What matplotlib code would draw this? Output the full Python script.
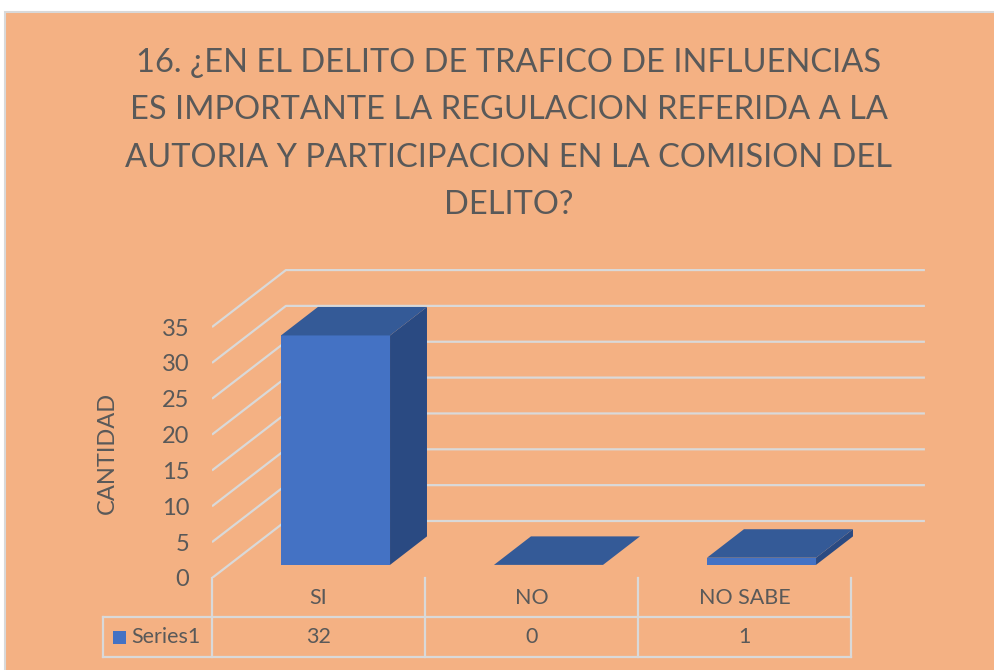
import matplotlib
matplotlib.use("Agg")
import matplotlib.pyplot as plt
from matplotlib.patches import Polygon, Rectangle

# ---- data ----
categories = ["SI", "NO", "NO SABE"]
values = [32, 0, 1]
series_name = "Series1"
y_ticks = [0, 5, 10, 15, 20, 25, 30, 35]
title = ("16. ¿EN EL DELITO DE TRAFICO DE INFLUENCIAS\n"
         "ES IMPORTANTE LA REGULACION REFERIDA A LA\n"
         "AUTORIA Y PARTICIPACION EN LA COMISION DEL\n"
         "DELITO?")
y_label = "CANTIDAD"

# ---- style ----
BG = "#F4B183"
GRID = "#D9D9D9"
TXT = "#595959"
FRONT = "#4472C4"
TOP = "#345A97"
SIDE = "#2A4A82"
FONT = ["Lato", "DejaVu Sans"]

W, H = 994, 670
fig = plt.figure(figsize=(W / 100, H / 100), dpi=100)
fig.patch.set_facecolor("white")
bg = Rectangle((5 / W, -0.01), 1.0, (H - 12) / H + 0.01, transform=fig.transFigure,
               facecolor=BG, edgecolor=GRID, linewidth=1.5, zorder=-10)
fig.add_artist(bg)

# oblique 3D geometry (in data units)
DX = 0.347     # full depth, in category units
DY = 7.95      # full depth, in value units
D0, D1 = 0.23, 0.73  # bar depth span
BW = 0.512     # bar width

px_per_cat = 213.0
px_per_val = 7.17
x_left_px, y0_px = 212, 578
x_right_px, y_top_px = 927, 269
ax = fig.add_axes([x_left_px / W, (H - y0_px) / H,
                   (x_right_px - x_left_px) / W, (y0_px - y_top_px) / H])
ax.set_zorder(5)
ax.set_xlim(-0.5, -0.5 + (x_right_px - x_left_px) / px_per_cat)
ax.set_ylim(0, (y0_px - y_top_px) / px_per_val)
ax.patch.set_alpha(0)
for s in ax.spines.values():
    s.set_visible(False)
ax.set_xticks([])
ax.set_yticks(y_ticks)
ax.set_yticklabels([str(t) for t in y_ticks], fontsize=17, color=TXT, family=FONT)
ax.tick_params(axis="y", length=0, pad=16.5)

n = len(categories)
x_back_right = n - 0.5 + DX
# gridlines: diagonal on left wall + horizontal on back wall
for t in y_ticks:
    ax.plot([-0.5, -0.5 + DX, x_back_right], [t, t + DY, t + DY],
            color=GRID, lw=1.6, zorder=1, solid_capstyle="butt")

# bars
for i, v in enumerate(values):
    xc = i + D0 * DX
    x0, x1 = xc - BW / 2, xc + BW / 2
    yb = D0 * DY
    ddx = (D1 - D0) * DX
    ddy = (D1 - D0) * DY
    yt = yb + v
    if v > 0:
        ax.add_patch(Polygon([(x0, yb), (x1, yb), (x1, yt), (x0, yt)],
                             closed=True, facecolor=FRONT, edgecolor="none", zorder=3))
        ax.add_patch(Polygon([(x1, yb), (x1 + ddx, yb + ddy), (x1 + ddx, yt + ddy), (x1, yt)],
                             closed=True, facecolor=SIDE, edgecolor="none", zorder=3))
    ax.add_patch(Polygon([(x0, yt), (x1, yt), (x1 + ddx, yt + ddy), (x0 + ddx, yt + ddy)],
                         closed=True, facecolor=TOP, edgecolor="none", zorder=3))

# data table
y_row1 = -(617 - y0_px) / px_per_val
y_row2 = -(657 - y0_px) / px_per_val
x_tab_left = -0.5 - (x_left_px - 103) / px_per_cat
kw = dict(color=GRID, lw=1.6, clip_on=False, zorder=2)
for e in range(n + 1):
    ax.plot([e - 0.5, e - 0.5], [0, y_row2], **kw)
ax.plot([x_tab_left, n - 0.5], [y_row1, y_row1], **kw)
ax.plot([x_tab_left, n - 0.5], [y_row2, y_row2], **kw)
ax.plot([x_tab_left, x_tab_left], [y_row1, y_row2], **kw)
for i, (c, v) in enumerate(zip(categories, values)):
    ax.text(i, y_row1 / 2, c, ha="center", va="center", fontsize=15.5,
            color=TXT, family=FONT, clip_on=False)
    ax.text(i, (y_row1 + y_row2) / 2, str(v), ha="center", va="center", fontsize=15.5,
            color=TXT, family=FONT, clip_on=False)
ym = (y_row1 + y_row2) / 2
ax.add_patch(Rectangle((x_tab_left + 10 / px_per_cat, ym - 6.5 / px_per_val),
                       13 / px_per_cat, 13 / px_per_val, facecolor=FRONT,
                       edgecolor="none", clip_on=False, zorder=3))
ax.text(x_tab_left + 28 / px_per_cat, ym, series_name, ha="left", va="center",
        fontsize=15.5, color=TXT, family=FONT, clip_on=False)

# axis title
fig.text(107 / W, 1 - 453 / H, y_label, rotation=90, ha="center", va="center",
         fontsize=17, color=TXT, family=FONT)

# chart title
fig.text(509 / W, 1 - 134 / H, title, ha="center", va="center", fontsize=23.5,
         color=TXT, family=FONT, linespacing=1.73)

fig.savefig("out.png", dpi=100, facecolor=fig.get_facecolor())
